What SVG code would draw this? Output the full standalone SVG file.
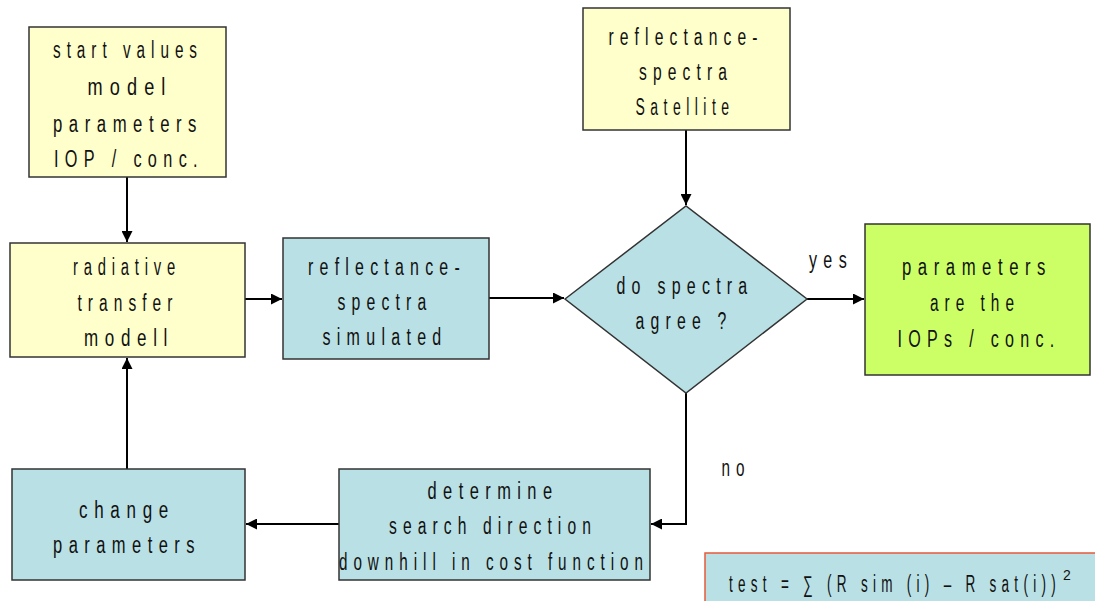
<svg xmlns="http://www.w3.org/2000/svg" width="1095" height="601" viewBox="0 0 1095 601">
<style>
.box{stroke:#333;stroke-width:1.5}
.y{fill:#FFFFCC}
.b{fill:#B9E0E4}
.g{fill:#CCFF66}
text{font-family:"Liberation Sans",Arial,sans-serif;font-size:23px;letter-spacing:9px;fill:#111;text-anchor:middle}
.c{stroke:#000;stroke-width:2;fill:none}
</style>
<defs>
<marker id="ah" viewBox="0 0 10 10" refX="10" refY="5" markerWidth="11" markerHeight="11" markerUnits="userSpaceOnUse" orient="auto">
<path d="M0,0 L10,5 L0,10 z" fill="#000"/>
</marker>
</defs>
<rect width="1095" height="601" fill="#fff"/>
<g id="connectors">
<line class="c" x1="127" y1="177" x2="127" y2="242" marker-end="url(#ah)"/>
<line class="c" x1="127" y1="469" x2="127" y2="358" marker-end="url(#ah)"/>
<line class="c" x1="245" y1="299" x2="282" y2="299" marker-end="url(#ah)"/>
<line class="c" x1="489" y1="298" x2="564" y2="298" marker-end="url(#ah)"/>
<line class="c" x1="686" y1="130" x2="686" y2="205" marker-end="url(#ah)"/>
<line class="c" x1="807" y1="299" x2="864" y2="299" marker-end="url(#ah)"/>
<polyline class="c" points="686,393 686,524 651,524" marker-end="url(#ah)"/>
<line class="c" x1="339" y1="524" x2="246" y2="524" marker-end="url(#ah)"/>
<text x="831" y="268" textLength="44" lengthAdjust="spacingAndGlyphs">yes</text>
<text x="736" y="476" textLength="29" lengthAdjust="spacingAndGlyphs">no</text>
</g>
<g id="start">
<rect class="box y" x="29" y="27" width="197" height="150"/>
<text x="128" y="58" textLength="150" lengthAdjust="spacingAndGlyphs">start values</text>
<text x="130" y="95" textLength="85" lengthAdjust="spacingAndGlyphs">model</text>
<text x="128" y="132" textLength="150" lengthAdjust="spacingAndGlyphs">parameters</text>
<text x="129" y="167" textLength="150" lengthAdjust="spacingAndGlyphs">IOP / conc.</text>
</g>
<g id="satellite">
<rect class="box y" x="583" y="8" width="207" height="122"/>
<text x="686" y="45" textLength="155" lengthAdjust="spacingAndGlyphs">reflectance-</text>
<text x="686" y="80" textLength="94" lengthAdjust="spacingAndGlyphs">spectra</text>
<text x="685" y="115" textLength="99" lengthAdjust="spacingAndGlyphs">Satellite</text>
</g>
<g id="radiative">
<rect class="box y" x="10" y="243" width="235" height="114"/>
<text x="127" y="275" textLength="108" lengthAdjust="spacingAndGlyphs">radiative</text>
<text x="128" y="311" textLength="101" lengthAdjust="spacingAndGlyphs">transfer</text>
<text x="129" y="346" textLength="90" lengthAdjust="spacingAndGlyphs">modell</text>
</g>
<g id="simulated">
<rect class="box b" x="283" y="238" width="206" height="121"/>
<text x="387" y="275" textLength="158" lengthAdjust="spacingAndGlyphs">reflectance-</text>
<text x="385" y="310" textLength="95" lengthAdjust="spacingAndGlyphs">spectra</text>
<text x="385" y="345" textLength="125" lengthAdjust="spacingAndGlyphs">simulated</text>
</g>
<g id="decision">
<polygon class="box b" points="565,299 686,206 807,299 686,393"/>
<text x="685" y="294" textLength="137" lengthAdjust="spacingAndGlyphs">do spectra</text>
<text x="684" y="329" textLength="97" lengthAdjust="spacingAndGlyphs">agree ?</text>
</g>
<g id="result">
<rect class="box g" x="865" y="224" width="225" height="151"/>
<text x="977" y="275" textLength="150" lengthAdjust="spacingAndGlyphs">parameters</text>
<text x="975" y="311" textLength="90" lengthAdjust="spacingAndGlyphs">are the</text>
<text x="979" y="347" textLength="163" lengthAdjust="spacingAndGlyphs">IOPs / conc.</text>
</g>
<g id="determine">
<rect class="box b" x="339" y="469" width="311" height="111"/>
<text x="493" y="499" textLength="131" lengthAdjust="spacingAndGlyphs">determine</text>
<text x="493" y="534" textLength="208" lengthAdjust="spacingAndGlyphs">search direction</text>
<text x="494" y="570" textLength="310" lengthAdjust="spacingAndGlyphs">downhill in cost function</text>
</g>
<g id="change">
<rect class="box b" x="12" y="469" width="233" height="111"/>
<text x="127" y="518" textLength="96" lengthAdjust="spacingAndGlyphs">change</text>
<text x="127" y="553" textLength="148" lengthAdjust="spacingAndGlyphs">parameters</text>
</g>
<g id="formula">
<rect x="705" y="553" width="395" height="52" fill="#B9E0E4" stroke="#E8583A" stroke-width="1.5"/>
<text x="895" y="592" textLength="332" lengthAdjust="spacingAndGlyphs">test = ∑ (R sim (i) – R sat(i))</text>
<text x="1063" y="580" style="font-size:14px;letter-spacing:0;text-anchor:start">2</text>
</g>
</svg>
